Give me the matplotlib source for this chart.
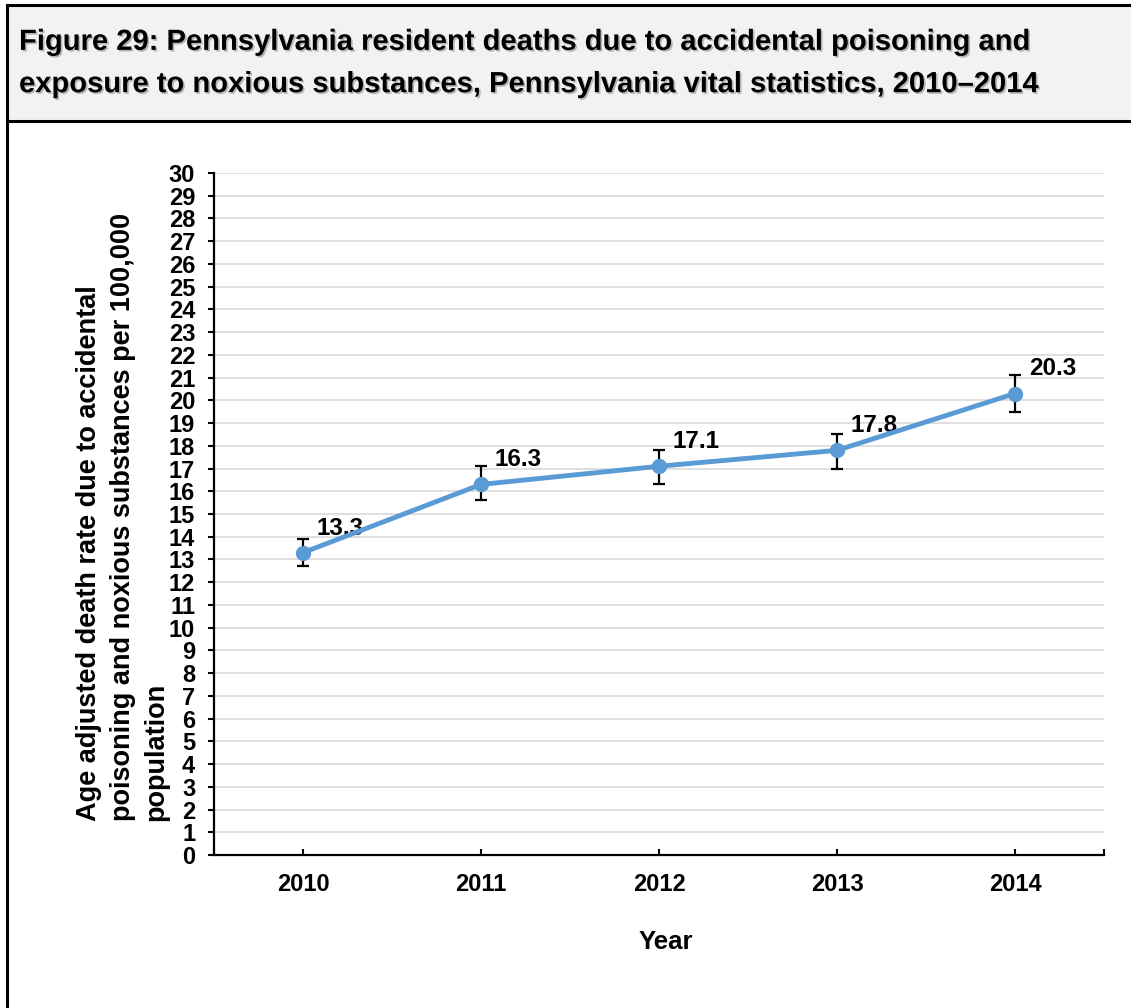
import numpy as np
import matplotlib
matplotlib.use('Agg')
import matplotlib.pyplot as plt
from matplotlib import lines, patches
import matplotlib.patheffects as pe

years = ['2010', '2011', '2012', '2013', '2014']
rates = [13.3, 16.3, 17.1, 17.8, 20.3]
err_low = [0.6, 0.7, 0.8, 0.8, 0.8]
err_high = [0.6, 0.8, 0.7, 0.7, 0.8]
y_ticks = list(range(0, 31))

title = ('Figure 29: Pennsylvania resident deaths due to accidental poisoning and\n'
         'exposure to noxious substances, Pennsylvania vital statistics, 2010\u20132014')
ylab = ('Age adjusted death rate due to accidental\n'
        'poisoning and noxious substances per 100,000\n'
        'population')

plt.rcParams['font.family'] = ['Liberation Sans', 'DejaVu Sans']
plt.rcParams['font.weight'] = 'bold'

W, H = 1131, 1008
fig = plt.figure(figsize=(W / 100, H / 100), dpi=100, facecolor='white')


def px(x, y):
    return x / W, 1 - y / H


# title box and frame
x0, y0 = px(7, 5)
x1, y1 = px(1140, 121)
fig.patches.append(patches.Rectangle((x0, y1), x1 - x0, y0 - y1,
                                     transform=fig.transFigure,
                                     facecolor='#f2f2f2', edgecolor='none'))
for a, b in [((7, 5), (1140, 5)), ((7, 121), (1140, 121)), ((7, 5), (7, 1010))]:
    pa, pb = px(*a), px(*b)
    fig.add_artist(lines.Line2D([pa[0], pb[0]], [pa[1], pb[1]],
                                transform=fig.transFigure, color='black', lw=2.2))

tx, ty = px(19, 63)
fig.text(tx, ty, title, fontsize=21, fontweight='bold', ha='left', va='center',
         linespacing=1.65,
         path_effects=[pe.withSimplePatchShadow(offset=(1.2, -1.2), alpha=0.25)])

ax = fig.add_axes([214 / W, 1 - 855 / H, (1104 - 214) / W, (855 - 173) / H])
x = np.arange(len(years))

ax.errorbar(x, rates, yerr=[err_low, err_high], fmt='none', ecolor='black',
            elinewidth=1.6, capsize=4, capthick=1.6, zorder=3)
ax.plot(x, rates, color='#5b9bd5', lw=3.5, marker='o', markersize=10, zorder=4)

for xi, v in zip(x, rates):
    ax.annotate(f'{v:.1f}', (xi, v), xytext=(10, 13), textcoords='offset points',
                ha='left', va='baseline', fontsize=17.5, fontweight='bold')

ax.set_xlim(-0.5, len(years) - 0.5)
ax.set_ylim(0, 30)
ax.set_yticks(y_ticks)
ax.set_xticks(x)
ax.set_xticklabels(years)
ax.set_xticks([-0.5, len(years) - 0.5], minor=True)
ax.yaxis.grid(True, color='#d9d9d9', lw=1.2)
ax.set_axisbelow(True)
for s in ['top', 'right']:
    ax.spines[s].set_visible(False)
ax.spines['left'].set_linewidth(1.6)
ax.spines['bottom'].set_linewidth(1.6)
ax.tick_params(axis='y', direction='out', length=4.5, width=1.5, pad=9,
               labelsize=17)
ax.tick_params(axis='x', which='both', direction='in', length=4.5, width=1.5,
               pad=13, labelsize=17)
for lab in ax.get_xticklabels() + ax.get_yticklabels():
    lab.set_fontweight('bold')

fig.text(666 / W, 1 - 942 / H, 'Year', fontsize=18.5, fontweight='bold',
         ha='center', va='center')
lx, ly = px(123, 821)
fig.text(lx, ly, ylab, rotation=90, fontsize=19.5, fontweight='bold',
         ha='center', va='bottom', multialignment='left', linespacing=1.38)

fig.savefig('out.png', dpi=100, facecolor='white')
